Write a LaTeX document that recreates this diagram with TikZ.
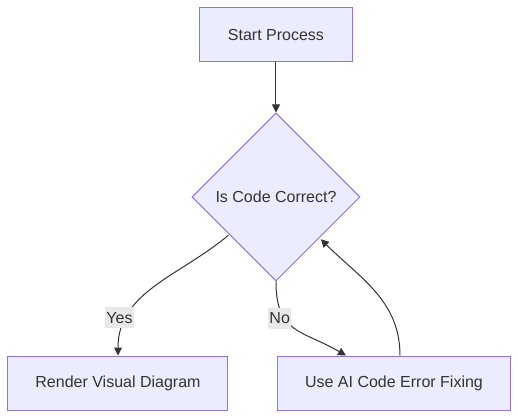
\documentclass[tikz,border=0pt]{standalone}
\usepackage{fontspec}
\setmainfont{Liberation Sans}
\usepackage{xcolor}
\usetikzlibrary{positioning,shapes.geometric,arrows.meta}
\definecolor{nodefill}{HTML}{ECECFF}
\definecolor{nodeline}{HTML}{9370DB}
\definecolor{inkgrey}{HTML}{333333}
\definecolor{tagfill}{HTML}{E8E8E8}

\begin{document}
\begin{tikzpicture}[
						box/.style={rectangle, draw=nodeline, fill=nodefill, line width=0.75pt, minimum height=40.5pt, text=inkgrey, font=\fontsize{12}{14}\selectfont},
						decision/.style={diamond, draw=nodeline, fill=nodefill, line width=0.75pt, minimum size=126pt, inner sep=0pt, text=inkgrey, font=\fontsize{12}{14}\selectfont},
						tag/.style={rectangle, fill=tagfill, inner xsep=1pt, inner ysep=3.5pt, text=inkgrey, font=\fontsize{12}{14}\selectfont},
						flow/.style={draw=inkgrey, line width=0.75pt, -{Triangle[length=6pt, width=6pt]}}
					]
					\useasboundingbox (-207pt,26.25pt) rectangle (181.5pt,-286.5pt);
					\node[box, minimum width=114pt] (start) at (0,0) {Start Process};
					\node[decision] (check) [below=37.5pt of start] {Is Code Correct?};
					\node[box, minimum width=165pt] (render) [below=55.5pt of check, xshift=-118.5pt] {Render Visual Diagram};
					\node[box, minimum width=174pt] (fix) [below=55.5pt of check, xshift=88.5pt] {Use AI Code Error Fixing};
					\draw[flow] (start.south) -- (check.north);
					\draw[flow] ([xshift=-4pt,yshift=3pt]check.south west) to[out=-140, in=90] node[tag, pos=0.78, xshift=-5pt, yshift=1.5pt] (yes) {Yes} (render.north);
					\draw[flow] (check.south) to[out=-90, in=150, looseness=1.3] node[tag, pos=0.4, xshift=-6pt, yshift=3pt] (no) {No} ([xshift=-36pt]fix.north);
					\draw[flow] ([xshift=4.5pt]fix.north) to[out=90, in=-45] ([xshift=2pt]check.south east);
					\end{tikzpicture}
\end{document}
